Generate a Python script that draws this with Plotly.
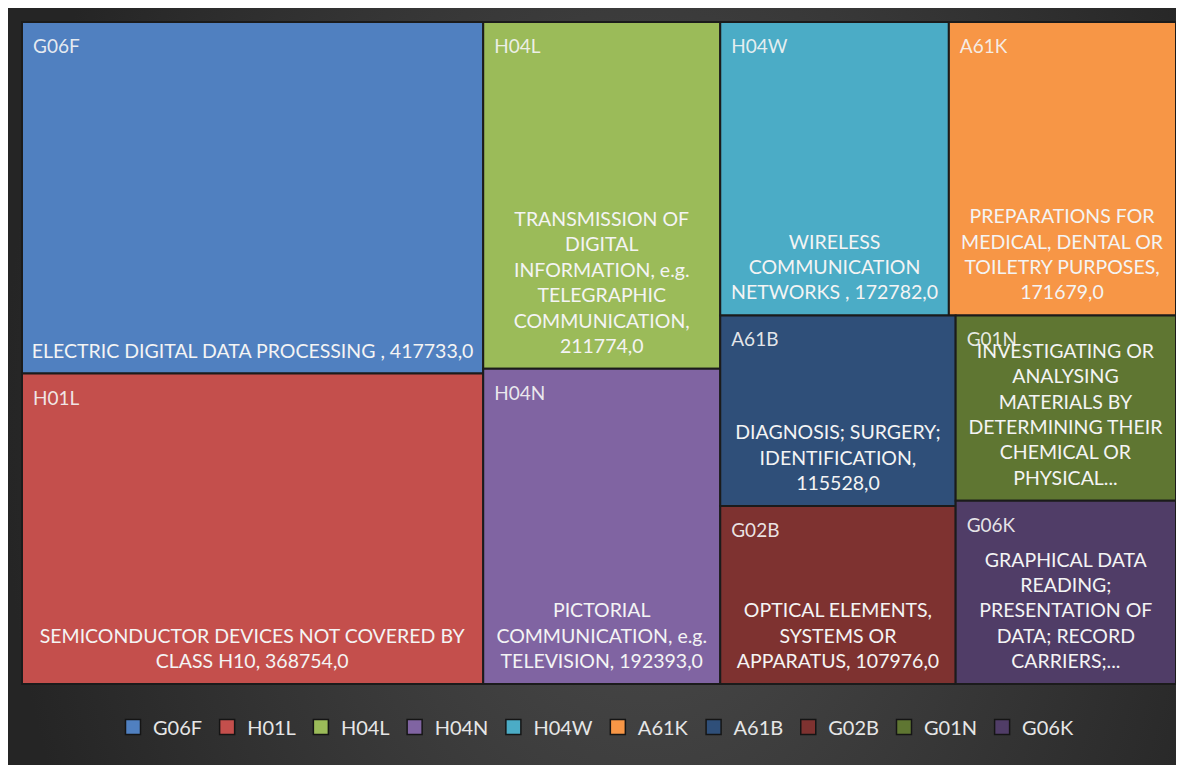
import base64
import plotly.graph_objects as go

# ---- data ----
codes = ["G06F", "H01L", "H04L", "H04N", "H04W", "A61K", "A61B", "G02B", "G01N", "G06K"]
values = [417733, 368754, 211774, 192393, 172782, 171679, 115528, 107976, 105200, 104000]
descriptions = [
    "ELECTRIC DIGITAL DATA PROCESSING , {v}",
    "SEMICONDUCTOR DEVICES NOT COVERED BY<br>CLASS H10, {v}",
    "TRANSMISSION OF<br>DIGITAL<br>INFORMATION, e.g.<br>TELEGRAPHIC<br>COMMUNICATION,<br>{v}",
    "PICTORIAL<br>COMMUNICATION, e.g.<br>TELEVISION, {v}",
    "WIRELESS<br>COMMUNICATION<br>NETWORKS , {v}",
    "PREPARATIONS FOR<br>MEDICAL, DENTAL OR<br>TOILETRY PURPOSES,<br>{v}",
    "DIAGNOSIS; SURGERY;<br>IDENTIFICATION,<br>{v}",
    "OPTICAL ELEMENTS,<br>SYSTEMS OR<br>APPARATUS, {v}",
    "INVESTIGATING OR<br>ANALYSING<br>MATERIALS BY<br>DETERMINING THEIR<br>CHEMICAL OR<br>PHYSICAL...",
    "GRAPHICAL DATA<br>READING;<br>PRESENTATION OF<br>DATA; RECORD<br>CARRIERS;...",
]
colors = ["#5080c0", "#c44f4c", "#9bbb59", "#8064a2", "#4bacc6",
          "#f79646", "#2f4f79", "#7e3230", "#5f7632", "#503d67"]

FONT = "Lato"
W, H = 1184, 765
OFF = 8                      # page offset of the figure (body margin)
# tree area in page pixels
X0, X1, Y0, Y1 = 22, 1176, 22, 684
LEGEND_Y = 727
LEGEND_X = 596


def dom(x0, x1, y0, y1):
    """page-pixel box -> paper domain (margins are zero)"""
    fx0, fx1, fy0, fy1 = x0 - OFF, x1 - OFF, y0 - OFF, y1 - OFF
    return dict(x=[fx0 / W, fx1 / W], y=[(H - fy1) / H, (H - fy0) / H])


desc_text = [d.replace("{v}", f"{v},0") for d, v in zip(descriptions, values)]
zero_pad = dict(t=0, l=0, r=0, b=0)
common = dict(ids=codes, labels=codes, parents=[""] * len(codes), values=values,
              sort=True, tiling=dict(packing="squarify", squarifyratio=1, pad=0),
              pathbar=dict(visible=False))
clear = ["rgba(0,0,0,0)"] * len(codes)

fig = go.Figure()

# coloured tiles
fig.add_trace(go.Treemap(
    **common, texttemplate=" ",
    marker=dict(colors=colors, line=dict(color="#1b1b1b", width=2), pad=zero_pad),
    hoverinfo="label+value", domain=dom(X0, X1, Y0, Y1),
))
# descriptions, bottom centred (layout lifted a few px)
DY_DESC = 9
fig.add_trace(go.Treemap(
    **common, text=desc_text, texttemplate="%{text}", textposition="bottom center",
    marker=dict(colors=clear, line=dict(width=0), pad=zero_pad),
    textfont=dict(family=FONT, size=19.5, color="#f4f4f4"),
    hoverinfo="skip", domain=dom(X0, X1, Y0 - DY_DESC, Y1 - DY_DESC),
))
# codes, top left (layout nudged right/down)
DX_LAB, DY_LAB = 8, 9
fig.add_trace(go.Treemap(
    **common, texttemplate="%{label}", textposition="top left",
    marker=dict(colors=clear, line=dict(width=0), pad=zero_pad),
    textfont=dict(family=FONT, size=19, color="rgba(245,245,245,0.92)"),
    hoverinfo="skip", domain=dom(X0 + DX_LAB, X1 + DX_LAB, Y0 + DY_LAB, Y1 + DY_LAB),
))

# legend entries
for c, col in zip(codes, colors):
    fig.add_trace(go.Scatter(
        x=[None], y=[None], mode="markers", name=c,
        marker=dict(symbol="square", size=15, color=col, line=dict(color="#151515", width=1.5)),
    ))

# dark radial-gradient background (lighter in the middle, darker at the sides)
svg = (
    '<svg xmlns="http://www.w3.org/2000/svg" width="1177" height="758">'
    '<defs><radialGradient id="g" gradientUnits="userSpaceOnUse" cx="0" cy="0" r="1" '
    'gradientTransform="translate(635,420) scale(640,900)">'
    '<stop offset="0%" stop-color="#4e4e4e"/><stop offset="100%" stop-color="#252525"/>'
    '</radialGradient></defs><rect width="1177" height="758" fill="url(#g)"/></svg>'
)
src = "data:image/svg+xml;base64," + base64.b64encode(svg.encode()).decode()
fig.add_layout_image(dict(
    source=src, xref="paper", yref="paper",
    x=(7 - OFF) / W, y=1 - (7 - OFF) / H,
    sizex=(W + OFF - 7) / W, sizey=(H + OFF - 7) / H,
    sizing="stretch", xanchor="left", yanchor="top", layer="below",
))

fig.update_layout(
    width=W, height=H,
    margin=dict(l=0, r=0, t=0, b=0),
    paper_bgcolor="#f3f3f3", plot_bgcolor="rgba(0,0,0,0)",
    xaxis=dict(visible=False), yaxis=dict(visible=False),
    showlegend=True,
    legend=dict(orientation="h", x=(LEGEND_X - OFF) / W, xanchor="center",
                y=(H - (LEGEND_Y - OFF)) / H, yanchor="middle",
                font=dict(family=FONT, size=20, color="#e6e6e6"),
                bgcolor="rgba(0,0,0,0)", itemwidth=30),
    font=dict(family=FONT),
)

fig.write_html("out.html")
